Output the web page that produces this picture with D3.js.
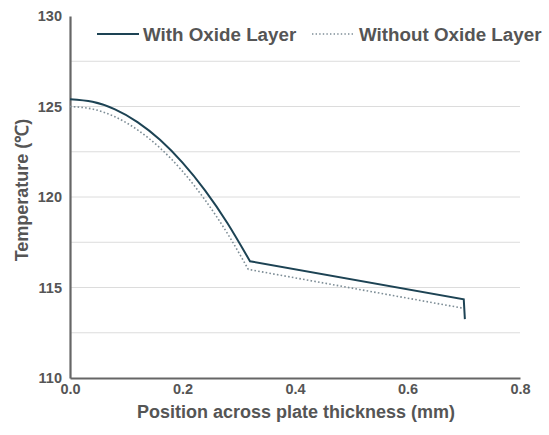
<!DOCTYPE html>
<html>
<head>
<meta charset="utf-8">
<script src="https://cdn.jsdelivr.net/npm/d3@7"></script>
<style>
  body { margin: 0; background: #fff; }
  text { font-family: "Liberation Sans", Arial, sans-serif; font-weight: bold; fill: #555; }
</style>
</head>
<body>
<div id="chart"></div>
<script>
// data
const withOxideX = [0, 0.04, 0.08, 0.12, 0.16, 0.2, 0.24, 0.28, 0.32, 0.7, 0.702];
const withOxideT = [125.4, 125.26, 124.84, 124.14, 123.16, 121.9, 120.37, 118.55, 116.45, 114.35, 113.25];
const withoutOxideX = [0, 0.04, 0.08, 0.12, 0.16, 0.2, 0.24, 0.28, 0.317, 0.7];
const withoutOxideT = [125.0, 124.86, 124.43, 123.71, 122.71, 121.42, 119.84, 117.98, 116.0, 113.85];
const kinkIndex = 8; // oxide/steel interface: curved before, straight after
const xTicks = [0, 0.2, 0.4, 0.6, 0.8];
const yTicks = [110, 115, 120, 125, 130];
const yGrid = [112.5, 115, 117.5, 120, 122.5, 125, 127.5];

const width = 549, height = 435;
const margin = {top: 16, right: 29, bottom: 57, left: 70};

const svg = d3.select('#chart').append('svg')
  .attr('width', width)
  .attr('height', height);

const x = d3.scaleLinear().domain([0, 0.8]).range([margin.left, width - margin.right]);
const y = d3.scaleLinear().domain([110, 130]).range([height - margin.bottom, margin.top]);

// grid
svg.append('g').selectAll('line')
  .data(yGrid)
  .enter().append('line')
  .attr('x1', x(0)).attr('x2', x(0.8))
  .attr('y1', (d) => y(d)).attr('y2', (d) => y(d))
  .attr('stroke', '#dcdcdc')
  .attr('stroke-width', 1);

// axes
const xAxis = svg.append('g')
  .attr('transform', `translate(0,${y(110)})`)
  .call(d3.axisBottom(x).tickValues(xTicks).tickFormat(d3.format('.1f')).tickSize(0).tickPadding(6));
const yAxis = svg.append('g')
  .attr('transform', `translate(${x(0)},0)`)
  .call(d3.axisLeft(y).tickValues(yTicks).tickSize(0).tickPadding(8));
[xAxis, yAxis].forEach(g => {
  g.select('.domain').attr('stroke', '#666').attr('stroke-width', 2.2);
  g.selectAll('text').style('font-size', '14.5px').style('font-family', '"Liberation Sans", Arial, sans-serif').style('font-weight', 'bold').attr('fill', '#555');
});

// lines: smooth through the oxide region, straight through the plate
function seriesPath(xs, ts) {
  const pts = xs.map((v, i) => [v, ts[i]]);
  const curved = d3.line().x((d) => x(d[0])).y((d) => y(d[1])).curve(d3.curveNatural)(pts.slice(0, kinkIndex + 1));
  const straight = pts.slice(kinkIndex + 1).map((d) => 'L' + x(d[0]) + ',' + y(d[1])).join('');
  return curved + straight;
}

svg.append('path')
  .attr('fill', 'none')
  .attr('stroke', '#7d8d96')
  .attr('stroke-width', 1.6)
  .attr('stroke-dasharray', '1.6,2.2')
  .attr('d', seriesPath(withoutOxideX, withoutOxideT));

svg.append('path')
  .attr('fill', 'none')
  .attr('stroke', '#1d4354')
  .attr('stroke-width', 2)
  .attr('d', seriesPath(withOxideX, withOxideT));

// legend
const legend = svg.append('g');
legend.append('line')
  .attr('x1', 97).attr('x2', 139).attr('y1', 34).attr('y2', 34)
  .attr('stroke', '#1d4354').attr('stroke-width', 2);
legend.append('text')
  .attr('x', 143).attr('y', 40.5)
  .style('font-size', '18.8px')
  .text('With Oxide Layer');
legend.append('line')
  .attr('x1', 312).attr('x2', 354).attr('y1', 34).attr('y2', 34)
  .attr('stroke', '#7d8d96').attr('stroke-width', 1.4)
  .attr('stroke-dasharray', '1.4,2.2');
legend.append('text')
  .attr('x', 359).attr('y', 40.5)
  .style('font-size', '18.8px')
  .text('Without Oxide Layer');

// axis titles
svg.append('text')
  .attr('x', 296).attr('y', 418)
  .attr('text-anchor', 'middle')
  .style('font-size', '18px')
  .text('Position across plate thickness (mm)');
svg.append('text')
  .attr('transform', 'translate(28,190) rotate(-90)')
  .attr('text-anchor', 'middle')
  .style('font-size', '18px')
  .text('Temperature (℃)');
</script>
</body>
</html>
